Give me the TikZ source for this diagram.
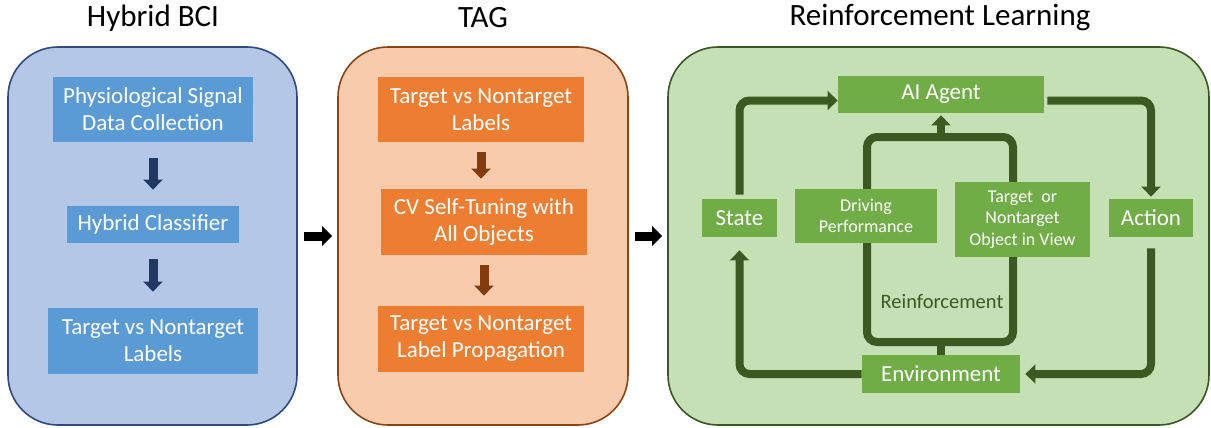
\documentclass[tikz,border=0pt]{standalone}
\usepackage{fontspec}
\setmainfont{Carlito}
\usetikzlibrary{arrows.meta}
\definecolor{bciback}{HTML}{B4C7E7}
\definecolor{bciline}{HTML}{2F4A80}
\definecolor{bcibox}{HTML}{5B9BD5}
\definecolor{bciarr}{HTML}{1F3864}
\definecolor{tagback}{HTML}{F8CBAD}
\definecolor{tagline}{HTML}{8B4513}
\definecolor{tagbox}{HTML}{ED7D31}
\definecolor{tagarr}{HTML}{843C0C}
\definecolor{rlback}{HTML}{C5E0B4}
\definecolor{rlline}{HTML}{385723}
\definecolor{rlbox}{HTML}{70AD47}
\definecolor{rlarr}{HTML}{3A5A22}
\begin{document}
\begin{tikzpicture}[x=0.5pt,y=-0.5pt,
	panel/.style={draw=#1,line width=0.8pt,rounded corners=25pt,minimum height=189pt,inner sep=0pt},
	title/.style={font=\fontsize{15.5}{18}\selectfont},
	box/.style={fill=#1,text=white,align=center,inner sep=0pt,font=\fontsize{11.5}{13.5}\selectfont},
	smallbox/.style={box=rlbox,font=\fontsize{9}{10.75}\selectfont},
	blockarr/.style={draw=#1,line width=4.5pt,-{Triangle[width=9.5pt,length=5pt]}},
	loopline/.style={draw=rlarr,line width=4pt,rounded corners=5pt}]
	\useasboundingbox (0,0) rectangle (1211,428);
	% panels
	\node[panel=bciline,fill=bciback,minimum width=144.5pt] (bci) at (152.5,236) {};
	\node[panel=tagline,fill=tagback,minimum width=145pt] (tag) at (483,236) {};
	\node[panel=rlline,fill=rlback,minimum width=270.5pt] (rl) at (938.5,236) {};
	\foreach \x/\t in {153/Hybrid BCI,483/TAG,940/Reinforcement Learning}{
		\node[title] at (\x,18) {\t};
	}
	% hybrid BCI
	\node[box=bcibox,minimum width=100pt,minimum height=32.5pt] (phys) at (153,109.5) {Physiological Signal\\Data Collection};
	\node[box=bcibox,minimum width=86pt,minimum height=18.5pt] (hclass) at (153,224.5) {Hybrid Classifier};
	\node[box=bcibox,minimum width=105pt,minimum height=33pt] (tlabels) at (153,341) {Target vs Nontarget\\Labels};
	% TAG
	\node[box=tagbox,minimum width=103pt,minimum height=32.5pt] (labels) at (481,109.5) {Target vs Nontarget\\Labels};
	\node[box=tagbox,minimum width=103pt,minimum height=33pt] (tune) at (484,222) {CV Self-Tuning with\\All Objects};
	\node[box=tagbox,minimum width=103pt,minimum height=33pt] (prop) at (481,339) {Target vs Nontarget\\Label Propagation};
	\foreach \a/\b in {phys/hclass,hclass/tlabels}
		\draw[blockarr=bciarr,shorten <=8pt,shorten >=8pt] (\a.south) -- (\a.south |- \b.north);
	\foreach \a/\b in {labels/tune,tune/prop}
		\draw[blockarr=tagarr,shorten <=5pt,shorten >=5pt] (\a.south) -- (\a.south |- \b.north);
	\draw[blockarr=black,shorten <=3pt,shorten >=2.5pt] (bci.east) -- (tag.west);
	\draw[blockarr=black,shorten <=3pt,shorten >=2.5pt] (tag.east) -- (rl.west);
	% reinforcement loop
	\coordinate (loopnw) at (867,137);
	\coordinate (loopse) at (1013,342);
	\draw[loopline] (loopnw) rectangle (loopse);
	\node[text=rlarr,font=\fontsize{10.25}{12}\selectfont] at (942,302) {Reinforcement};
	% RL
	\node[box=rlbox,minimum width=103pt,minimum height=18.5pt] (agent) at (941,94.5) {AI Agent};
	\node[box=rlbox,minimum width=37.5pt,minimum height=19pt] (state) at (739.5,218) {State};
	\node[smallbox,minimum width=71pt,minimum height=27pt] (drive) at (866,216) {Driving\\Performance};
	\node[smallbox,minimum width=67.5pt,minimum height=37.5pt] (objview) at (1022.5,219.5) {Target~ or\\Nontarget\\Object in View};
	\node[box=rlbox,minimum width=42pt,minimum height=19pt] (action) at (1151,218) {Action};
	\node[box=rlbox,minimum width=79pt,minimum height=19pt] (env) at (941,374) {Environment};
	\draw[loopline] (env.north) -- (env.north |- loopse);
	\draw[loopline,blockarr=rlarr,line width=4pt,shorten >=1pt] (agent.south |- loopnw) -- (agent.south);
	\draw[loopline,blockarr=rlarr,line width=4pt,shorten <=2pt] (state.north) |- ([yshift=-3pt]agent.west);
	\draw[loopline,blockarr=rlarr,line width=4pt,shorten <=1.5pt,shorten >=1pt] ([yshift=-3pt]agent.east) -| (action.north);
	\draw[loopline,blockarr=rlarr,line width=4pt,shorten <=5.5pt,shorten >=2.5pt] (action.south) |- (env.east);
	\draw[loopline,blockarr=rlarr,line width=4pt,shorten >=6.5pt] (env.west) -| (state.south);
\end{tikzpicture}
\end{document}
